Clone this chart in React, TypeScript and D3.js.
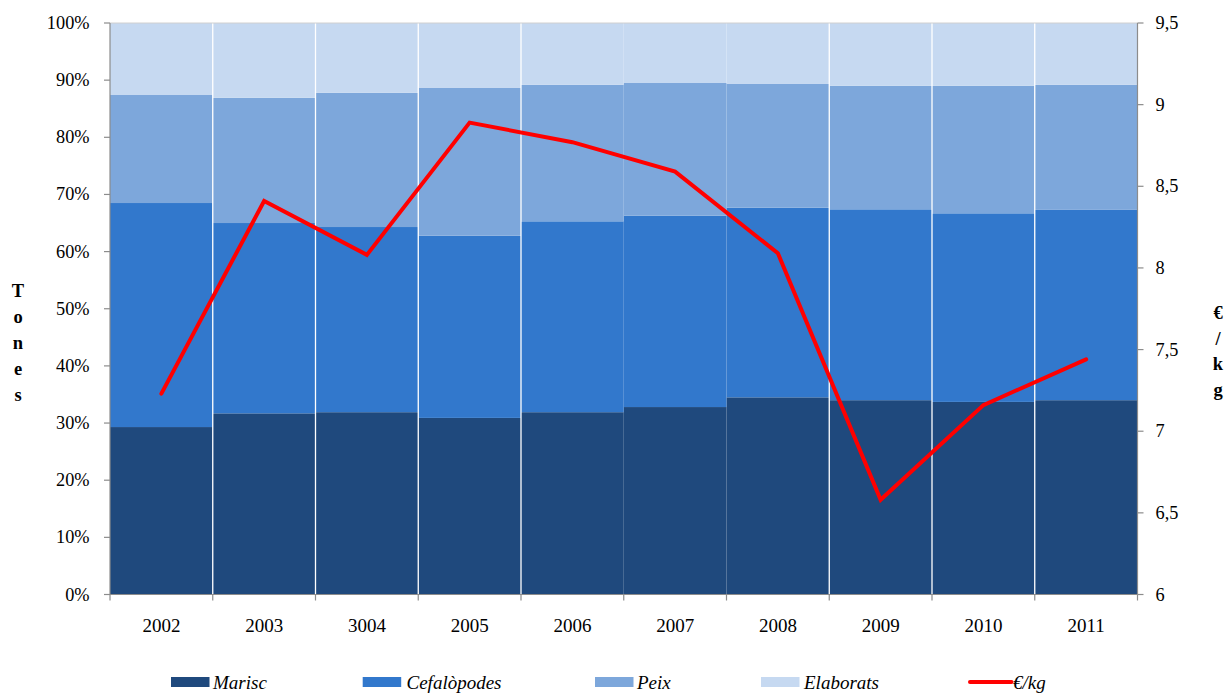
import React from "react";
import * as d3 from "d3";

const years = ["2002", "2003", "3004", "2005", "2006", "2007", "2008", "2009", "2010", "2011"];
const marisc = [29.3, 31.7, 31.9, 30.9, 31.9, 32.8, 34.5, 34.0, 33.7, 34.0];
const cefalopodes = [39.2, 33.3, 32.4, 31.9, 33.4, 33.5, 33.2, 33.4, 33.0, 33.3];
const peix = [18.9, 21.9, 23.5, 25.9, 23.9, 23.2, 21.7, 21.6, 22.3, 21.9];
const elaborats = [12.6, 13.1, 12.2, 11.3, 10.8, 10.5, 10.6, 11.0, 11.0, 10.8];
const preuKg = [7.23, 8.41, 8.08, 8.89, 8.77, 8.59, 8.09, 6.58, 7.16, 7.44];
const leftTicks = [0, 10, 20, 30, 40, 50, 60, 70, 80, 90, 100];
const rightTicks = [6, 6.5, 7, 7.5, 8, 8.5, 9, 9.5];
// boundaries (index of the year on the left) where a white separator is visible
const separatorsAfter = [0, 1, 2, 3, 6, 7, 8];

const seriesKeys = ["Marisc", "Cefalòpodes", "Peix", "Elaborats"];
const colors = ["#1F497D", "#3278CC", "#7DA7DB", "#C6D9F1"];

const W = 1226;
const H = 693;
const left = 110;
const right = 1137.5;
const top = 23;
const bottom = 594.5;
const FONT = "Liberation Serif, Times New Roman, Times, DejaVu Serif, serif";

export default function App() {
  const x = d3.scaleBand<string>().domain(years).range([left, right]).padding(0);
  const yL = d3.scaleLinear().domain([0, 100]).range([bottom, top]);
  const yR = d3.scaleLinear().domain([6, 9.5]).range([bottom, top]);

  const rows = years.map((y, i) => ({
    year: y,
    Marisc: marisc[i],
    "Cefalòpodes": cefalopodes[i],
    Peix: peix[i],
    Elaborats: elaborats[i],
  }));
  const stacked = d3.stack<any>().keys(seriesKeys)(rows);

  const line = d3
    .line<number>()
    .x((_, i) => (x(years[i]) as number) + x.bandwidth() / 2)
    .y((d) => yR(d));

  const legend = [
    { label: "Marisc", color: colors[0], sx: 171, tx: 213, type: "rect" },
    { label: "Cefalòpodes", color: colors[1], sx: 362.7, tx: 406.5, type: "rect" },
    { label: "Peix", color: colors[2], sx: 595, tx: 637, type: "rect" },
    { label: "Elaborats", color: colors[3], sx: 761, tx: 804, type: "rect" },
    { label: "€/kg", color: "#FF0000", sx: 970, tx: 1013, type: "line" },
  ];

  const leftTitle = "Tones".split("");
  const rightTitle = "€/kg".split("");

  return (
    <svg
      width={W}
      height={H}
      style={{ position: "absolute", left: 0, top: 0, background: "#fff", fontFamily: FONT }}
    >
      {/* bars */}
      {stacked.map((s, si) => (
        <g key={s.key}>
          {s.map((d, i) => (
            <rect
              key={i}
              x={x(years[i]) as number}
              width={x.bandwidth()}
              y={yL(d[1])}
              height={yL(d[0]) - yL(d[1])}
              fill={colors[si]}
            />
          ))}
        </g>
      ))}
      {/* white separators */}
      {separatorsAfter.map((i) => {
        const xx = (x(years[i]) as number) + x.bandwidth();
        return <line key={i} x1={xx} x2={xx} y1={top} y2={bottom} stroke="#fff" strokeWidth={1.3} />;
      })}
      {/* top border */}
      <line x1={left} x2={right} y1={top} y2={top} stroke="#d0d0d0" strokeWidth={1} />

      {/* left axis */}
      <line x1={left} x2={left} y1={top} y2={bottom} stroke="#8c8c8c" strokeWidth={1.2} />
      {leftTicks.map((t) => (
        <g key={t}>
          <line x1={left - 6} x2={left} y1={yL(t)} y2={yL(t)} stroke="#8c8c8c" strokeWidth={1.2} />
          <text x={89.5} y={yL(t) + 6} textAnchor="end" fontSize={18.3} fill="#000">
            {t}%
          </text>
        </g>
      ))}

      {/* right axis */}
      <line x1={right} x2={right} y1={top} y2={bottom} stroke="#8c8c8c" strokeWidth={1.2} />
      {rightTicks.map((t) => (
        <g key={t}>
          <line x1={right} x2={right + 6} y1={yR(t)} y2={yR(t)} stroke="#8c8c8c" strokeWidth={1.2} />
          <text x={1155.5} y={yR(t) + 6} textAnchor="start" fontSize={18.3} fill="#000">
            {String(t).replace(".", ",")}
          </text>
        </g>
      ))}

      {/* bottom axis */}
      <line x1={left} x2={right} y1={bottom} y2={bottom} stroke="#8c8c8c" strokeWidth={1.2} />
      {d3.range(years.length + 1).map((i) => {
        const xx = left + i * x.bandwidth();
        return <line key={i} x1={xx} x2={xx} y1={bottom} y2={bottom + 6} stroke="#8c8c8c" strokeWidth={1.2} />;
      })}
      {years.map((y) => (
        <text
          key={y}
          x={(x(y) as number) + x.bandwidth() / 2}
          y={632}
          textAnchor="middle"
          fontSize={19}
          fill="#000"
        >
          {y}
        </text>
      ))}

      {/* price line */}
      <path
        d={line(preuKg) || ""}
        fill="none"
        stroke="#FF0000"
        strokeWidth={4}
        strokeLinejoin="miter"
        strokeLinecap="round"
      />

      {/* axis titles */}
      {leftTitle.map((c, i) => (
        <text key={i} x={18} y={297 + i * 26} textAnchor="middle" fontSize={18.5} fontWeight="bold" fill="#000">
          {c}
        </text>
      ))}
      {rightTitle.map((c, i) => (
        <text key={i} x={1218} y={319 + i * 25.5} textAnchor="middle" fontSize={18.5} fontWeight="bold" fill="#000">
          {c}
        </text>
      ))}

      {/* legend */}
      {legend.map((l) => (
        <g key={l.label}>
          {l.type === "rect" ? (
            <rect x={l.sx} y={677} width={38.5} height={10} fill={l.color} />
          ) : (
            <line x1={l.sx} x2={l.sx + 41.5} y1={682} y2={682} stroke={l.color} strokeWidth={4} strokeLinecap="round" />
          )}
          <text x={l.tx} y={688.5} fontSize={19} fontStyle="italic" fill="#000">
            {l.label}
          </text>
        </g>
      ))}
    </svg>
  );
}
